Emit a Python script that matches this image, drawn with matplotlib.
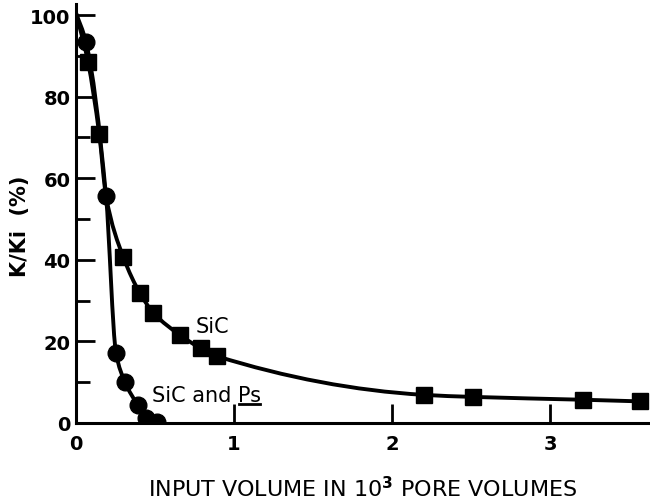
import numpy as np
import matplotlib
matplotlib.use('Agg')
import matplotlib.pyplot as plt
from matplotlib.path import Path
from matplotlib.patches import PathPatch
from matplotlib.lines import Line2D
from matplotlib.ticker import MultipleLocator

# SiC (squares); first point is the 100 % start, drawn without marker
sic_x = [0.0, 0.076, 0.147, 0.19, 0.30, 0.405, 0.49, 0.66, 0.79, 0.89, 2.20, 2.51, 3.21, 3.57]
sic_y = [100.5, 88.5, 70.8, 55.6, 40.6, 31.8, 27.0, 21.5, 18.3, 16.4, 6.9, 6.4, 5.7, 5.3]
sic_mark = [False, True, True, False, True, True, True, True, True, True, True, True, True, True]

# SiC and Ps (circles)
ps_x = [0.0, 0.063, 0.19, 0.253, 0.31, 0.39, 0.44, 0.51]
ps_y = [100.5, 93.4, 55.6, 17.2, 10.0, 4.4, 1.2, 0.3]
ps_mark = [False, True, True, True, True, True, True, True]


def smooth_curve(xs, ys):
    # monotone cubic (Fritsch-Carlson) through the points, as Bezier segments
    x = np.asarray(xs, float)
    y = np.asarray(ys, float)
    h = np.diff(x)
    s = np.diff(y) / h
    m = np.zeros_like(y)
    m[0], m[-1] = s[0], s[-1]
    for k in range(1, len(x) - 1):
        if s[k - 1] * s[k] > 0:
            w1 = 2 * h[k] + h[k - 1]
            w2 = h[k] + 2 * h[k - 1]
            m[k] = (w1 + w2) / (w1 / s[k - 1] + w2 / s[k])
    verts = [(x[0], y[0])]
    codes = [Path.MOVETO]
    for k in range(len(x) - 1):
        verts += [(x[k] + h[k] / 3, y[k] + m[k] * h[k] / 3),
                  (x[k + 1] - h[k] / 3, y[k + 1] - m[k + 1] * h[k] / 3),
                  (x[k + 1], y[k + 1])]
        codes += [Path.CURVE4] * 3
    return Path(verts, codes)


fig = plt.figure(figsize=(6.5, 5.02), dpi=100)
ax = fig.add_axes([76 / 650, 78 / 502, 574 / 650, 419 / 502])

for xs, ys in [(sic_x, sic_y), (ps_x, ps_y)]:
    ax.add_patch(PathPatch(smooth_curve(xs, ys), fill=False, lw=2.8,
                           ec='black', capstyle='round', joinstyle='round'))

ax.plot(np.array(sic_x)[sic_mark], np.array(sic_y)[sic_mark], 's', ms=11,
        color='black', ls='none')
ax.plot(np.array(ps_x)[ps_mark], np.array(ps_y)[ps_mark], 'o', ms=12,
        color='black', ls='none')

ax.set_xlim(0, 574 / 158)
ax.set_ylim(0, 102.7)

for s in ['top', 'right']:
    ax.spines[s].set_visible(False)
for s in ['left', 'bottom']:
    ax.spines[s].set_linewidth(2.2)

ax.set_xticks([0, 1, 2, 3])
ax.set_yticks([0, 20, 40, 60, 80, 100])
ax.yaxis.set_minor_locator(MultipleLocator(10))
ax.tick_params(axis='both', which='major', direction='in', length=14, width=2,
               labelsize=14)
ax.tick_params(axis='y', which='minor', direction='in', length=10, width=2)
ax.tick_params(axis='x', pad=8)
ax.tick_params(axis='y', pad=4)
for lab in ax.get_xticklabels() + ax.get_yticklabels():
    lab.set_fontweight('bold')

ax.set_xlabel(r'INPUT VOLUME IN 10$^{\mathbf{3}}$ PORE VOLUMES', fontsize=16)
ax.xaxis.set_label_coords(0.5, -0.124)
ax.set_ylabel('K/Ki  (%)', fontsize=15, fontweight='bold')
ax.yaxis.set_label_coords(-0.08, 0.473)

ax.text(0.76, 22.3, 'SiC', fontsize=15, va='baseline')
t1 = ax.text(0.48, 5.4, 'SiC and ', fontsize=15, va='baseline')

# "Ps" placed right after "SiC and ", then underlined
fig.canvas.draw()
r = fig.canvas.get_renderer()
bb = t1.get_window_extent(r)
inv = fig.transFigure.inverted()
base = ax.transData.transform((0.48, 5.4))[1]
fx, fy = inv.transform((bb.x1, base))
t2 = fig.text(fx, fy, 'Ps', fontsize=15, va='baseline')
fig.canvas.draw()
bb2 = t2.get_window_extent(r)
(ux0, uy), (ux1, _) = inv.transform([(bb2.x0 + 1, base - 3), (bb2.x1 - 1, base - 3)])
fig.add_artist(Line2D([ux0, ux1], [uy, uy], color='black', lw=2,
                      transform=fig.transFigure))

fig.savefig('out.png', dpi=100)
